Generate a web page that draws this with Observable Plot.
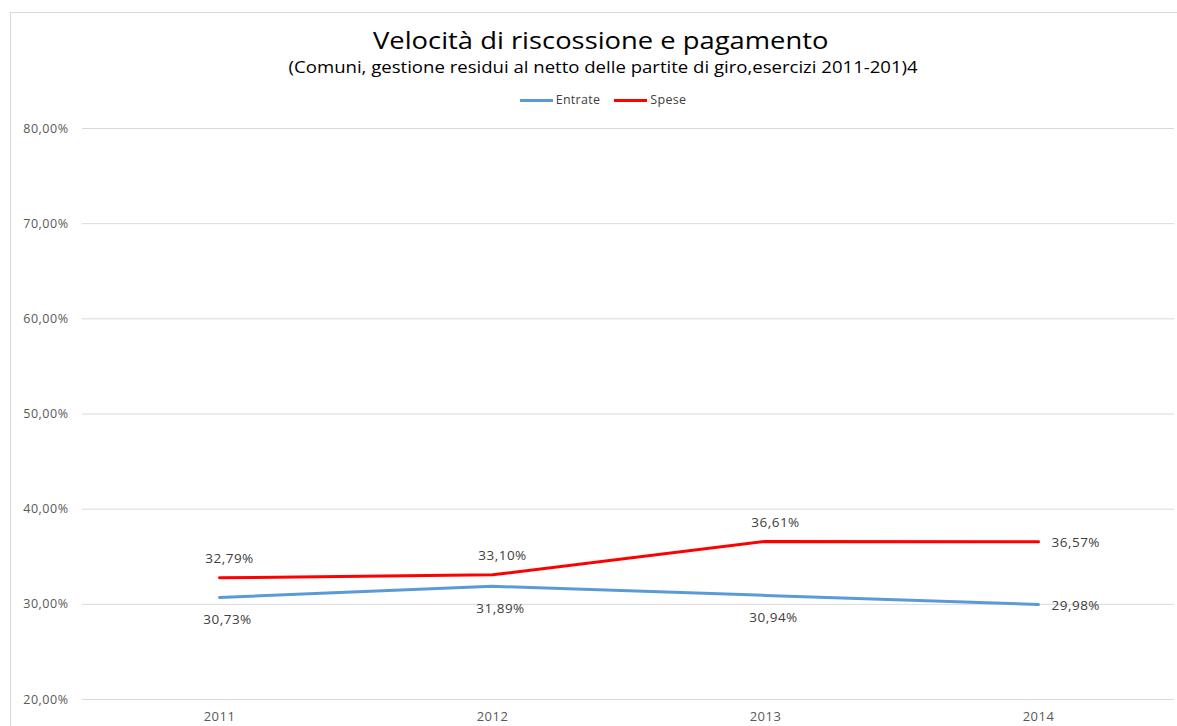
<!DOCTYPE html>
<html>
<head>
<meta charset="utf-8">
<script src="https://cdn.jsdelivr.net/npm/d3@7"></script>
<script src="https://cdn.jsdelivr.net/npm/@observablehq/plot@0.6"></script>
<style>
  body { margin: 0; background: #fff; font-family: "Open Sans", sans-serif; width: 1177px; height: 726px; overflow: hidden; position: relative; }
  #frame { position: absolute; left: 10px; top: 12px; width: 1180px; height: 800px; border: 1px solid #d9d9d9; box-sizing: border-box; }
  .centered { position: absolute; left: 0; text-align: center; }
  .centered > span { display: inline-block; }
  #title { width: 1202px; top: 25px; font-size: 24px; color: #000; line-height: 30px; }
  #title > span { transform: scaleX(1.14); }
  #subtitle { width: 1206px; top: 57px; font-size: 16px; color: #000; line-height: 20px; }
  #subtitle > span { transform: scaleX(1.16); }
  #legend { width: 1206px; top: 91px; font-size: 12.5px; color: #404040; line-height: 18px; letter-spacing: 0.3px; }
  #legend span.sw { display: inline-block; width: 33px; height: 3px; vertical-align: middle; margin-right: 3px; }
  #legend span.item { margin: 0 7px; }
  #chart { position: absolute; left: 11px; top: 110px; }
</style>
</head>
<body>
<div id="frame"></div>
<div id="title" class="centered"><span>Velocità di riscossione e pagamento</span></div>
<div id="subtitle" class="centered"><span>(Comuni, gestione residui al netto delle partite di giro,esercizi 2011-201)4</span></div>
<div id="legend" class="centered"></div>
<div id="chart"></div>
<script>
const years = ["2011", "2012", "2013", "2014"];
const seriesNames = ["Entrate", "Spese"];
const seriesColors = ["#5b9bd5", "#ff0000"];
const entrate = [30.73, 31.89, 30.94, 29.98];
const spese = [32.79, 33.10, 36.61, 36.57];
const yTicks = [20, 30, 40, 50, 60, 70, 80];

const data = [];
years.forEach((y, i) => {
  data.push({year: y, series: "Entrate", value: entrate[i]});
  data.push({year: y, series: "Spese", value: spese[i]});
});
const fmt = v => v.toFixed(2).replace(".", ",") + "%";
const last = years[years.length - 1];

const legend = document.getElementById("legend");
seriesNames.forEach((s, i) => {
  const item = document.createElement("span");
  item.className = "item";
  item.innerHTML = `<span class="sw" style="background:${seriesColors[i]}"></span>${s}`;
  legend.appendChild(item);
});

const chart = Plot.plot({
  width: 1166,
  height: 616,
  marginLeft: 71,
  marginRight: 3,
  marginTop: 18,
  marginBottom: 27,
  style: {fontFamily: "Open Sans, sans-serif", fontSize: "12.5px", color: "#595959", background: "transparent", letterSpacing: "0.5px"},
  x: {type: "point", domain: years, padding: 0.5, label: null},
  y: {domain: [20, 80], label: null},
  color: {domain: seriesNames, range: seriesColors},
  marks: [
    Plot.gridY(yTicks, {stroke: "#d9d9d9", strokeOpacity: 1, strokeWidth: 1}),
    Plot.axisY(yTicks, {tickFormat: fmt, tickSize: 0, tickPadding: 14, fill: "#595959", fontSize: 12.5}),
    Plot.axisX(years, {tickSize: 0, tickPadding: 12, fill: "#595959", fontSize: 13}),
    Plot.line(data, {x: "year", y: "value", stroke: "series", strokeWidth: 3, curve: "linear"}),
    Plot.text(data.filter(d => d.series === "Spese" && d.year !== last), {x: "year", y: "value", text: d => fmt(d.value), dy: -19, dx: 10, fill: "#404040", fontSize: 13.5}),
    Plot.text(data.filter(d => d.series === "Entrate" && d.year !== last), {x: "year", y: "value", text: d => fmt(d.value), dy: 22, dx: 8, fill: "#404040", fontSize: 13.5}),
    Plot.text(data.filter(d => d.year === last), {x: "year", y: "value", text: d => fmt(d.value), dx: 13, dy: 1, textAnchor: "start", fill: "#404040", fontSize: 13.5})
  ]
});
document.getElementById("chart").appendChild(chart);
</script>
</body>
</html>
